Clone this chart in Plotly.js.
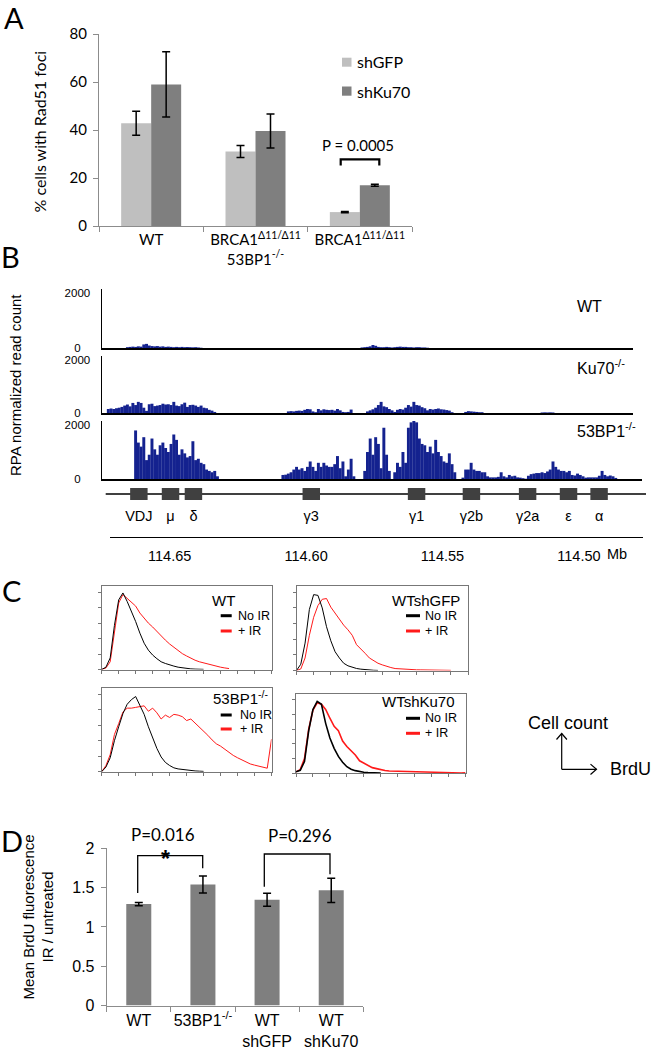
<!DOCTYPE html>
<html><head><meta charset="utf-8">
<script src="https://cdn.plot.ly/plotly-3.0.1.min.js"></script>
<style>html,body{margin:0;padding:0;background:#fff}#chart{width:657px;height:1050px}</style>
</head><body><div id="chart"></div>
<script>
// ---------- Panel A data ----------
const aCategories = ['WT', 'BRCA1<sup>Δ11/Δ11</sup><br>53BP1<sup>-/-</sup>', 'BRCA1<sup>Δ11/Δ11</sup>'];
const aShGFP = [42.8, 31, 5.8];
const aShGFPErr = [5, 2.5, 0.25];
const aShKu70 = [59, 39.6, 17];
const aShKu70Err = [13.6, 7.1, 0.4];

// ---------- Panel B data (RPA read counts, 1 kb bins from 114.6745 Mb going right) ----------
const trackStartMb = 114.6745;
const trackBinMb = -0.001;
const trackWT = [0,0,0,0,0,0,0,0,0,
30,40,50,40,60,50,130,150,90,70,60,70,50,60,40,50,40,30,40,30,40,30,35,30,25,30,20,10,
0,0,0,0,0,0,0,0,0,0,0,0,0,0,0,0,0,0,0,0,0,0,0,0,0,0,0,0,0,0,0,0,0,0,0,0,0,0,0,0,0,0,0,0,0,0,0,0,0,0,0,0,0,0,0,0,0,0,
20,30,40,60,110,80,40,30,30,40,30,20,30,40,50,40,40,30,30,20,30,30,20,20,10,
0,0,0,0,0,0,0,0,0,0,0,0,0,0,0,0,0,0,0,0,0,0,0,0,0,0,0,0,0,0,0,0,0,0,0,0,0,0,0,0,0,0,0,0,0,0,0,0,0,0,0,0,0,0,0,0,0,0,0,0,0,0,0,0,0,0,0,0,0,0,0,0,0,0];
const trackKu70 = [0,0,
150,170,150,180,200,230,280,320,250,380,300,420,380,200,80,330,350,260,280,300,350,320,330,300,420,280,260,330,390,230,300,310,280,230,280,200,180,120,90,40,
0,0,0,0,0,0,0,0,0,0,0,0,0,0,0,0,0,0,0,0,0,0,0,0,0,0,
60,70,60,80,90,80,120,150,140,60,30,150,100,140,120,110,120,90,150,100,40,30,40,130,0,
0,0,0,0,
60,100,140,200,300,420,250,220,150,100,40,120,150,130,200,300,240,420,300,280,220,180,100,150,130,150,170,140,130,110,90,30,
0,0,0,0,
40,70,60,50,40,30,30,
0,0,0,0,0,0,0,0,0,0,0,0,0,0,0,0,0,0,0,0,0,
20,25,20,25,20,
0,0,0,0,0,0,0,0,0,0,0,0,0,0,0,0,0,0,0,0,0,0,0,0,0,0,0,0,0,0,0,0];
const track53BP1 = [0,0,0,0,0,0,0,0,0,0,0,0,
1800,1350,1200,1550,700,
900,1500,1100,900,1250,1350,1150,1000,1300,1650,1450,900,1100,950,800,850,1400,700,750,600,550,350,300,250,300,100,
0,0,0,0,0,0,0,0,0,0,0,0,0,0,0,0,0,0,0,0,0,0,0,
150,160,200,250,350,450,350,400,300,450,650,450,300,600,450,600,500,450,450,550,850,400,650,100,350,750,100,
0,0,0,
300,
1000,1500,900,1550,1300,400,1900,900,300,0,
250,600,450,1000,600,1900,2100,2150,2100,1500,
1300,1250,1000,1200,950,1450,1000,850,650,600,
950,550,250,0,0,50,350,350,600,350,
300,300,250,250,100,60,60,60,80,250,
100,60,150,100,120,60,50,30,10,120,
180,200,220,220,250,220,280,350,650,450,
350,300,300,250,300,150,130,200,150,100,
50,60,60,60,60,120,300,150,100,130,
100,40,
0,0,0,0,0,0,0,0,0];
const trackNames = ['WT', 'Ku70<sup>-/-</sup>', '53BP1<sup>-/-</sup>'];
const geneNames = ['VDJ', 'μ', 'δ', 'γ3', 'γ1', 'γ2b', 'γ2a', 'ε', 'α'];
const genePosMb = [114.6613, 114.6497, 114.6413, 114.5981, 114.5595, 114.5394, 114.5188, 114.5038, 114.4926];
const scaleTicksMb = [114.65, 114.60, 114.55, 114.50];
const scaleTickText = ['114.65', '114.60', '114.55', '114.50'];

// ---------- Panel C data (BrdU histograms, % of peak, channels 0..100 step 2.5) ----------
const cStart = 0, cStep = 2.5;
const wtNoIR = [0,3,15,57,90,99,88,76,62,47,34,25,18.7,14,10,7.8,5.7,4.4,3,2,1.3,0.8,0.5,0.3,0.2];
const wtIR = [0,2,10,50,86,97,92,87,82,73,66,60,55,49,44,38,33,28.5,24.5,20.5,17.5,14.5,12,10,8.5,7,5.5,4.3,3,2,1.2];
const gfpNoIR = [0,8,35,78,97,96,80,56,38,24,16,9.3,6,4,2.6,1.7,1,0.6,0.3,0.1];
const gfpIR = [0,2,16,45,68,83,91,92,81,73,66,58,52,45,33,28,22,16,12.7,9.3,7.2,5,3.8,2.5,2,1.6,1.3,1.1,0.9,0.8,0.7,0.6,0.5,0.4,0.3,0.3,0.2];
const bp1NoIR = [0,6,18,40,58,75,87,93,97,85,74,58,44,30,19,12,8,5,3.6,2.8,1.8,1.3,1,0.7,0.4];
const bp1IR = [0,8,22,48,62,77,82,82,83,84,85,78,82,76,68,73,70,74,73,71,66,68,63,57,52,47,41,36,33,29,24,21,18,15,12,10,8.5,7,6,4.5,42];
const ku70NoIR = [2,4,16,58,87,98,94,68,48,34,23,15,9,5.5,3.6,2.3,1.4,0.9,0.5,0.3,0.2];
const ku70IR = [2,5,20,60,86,96,94,87,75,64,58,44,36.5,31,25,17,13.7,10,7.7,6.4,4.6,3.8,3.2,3,2.8,2.6,2.4,2.3,2.2,2,1.5,1.2,1,0.9,0.8,0.8,0.8,0.6,0.6,0.5,0.8];
const cPanelNames = ['WT', 'WTshGFP', '53BP1<sup>-/-</sup>', 'WTshKu70'];

// ---------- Panel D data ----------
const dCategories = ['WT', '53BP1<sup>-/-</sup>', 'WT<br>shGFP', 'WT<br>shKu70'];
const dValues = [1.29, 1.54, 1.345, 1.465];
const dErr = [0.02, 0.108, 0.083, 0.155];

// ---------- helpers ----------
const W = 657, H = 1050;
const px = x => x / W;
const py = y => 1 - y / H;
const dX = (a, b) => [px(a), px(b)];
const dY = (top, bottom) => [py(bottom), py(top)];
const mb = x => 114.65 - (x - 169.7) / 2728;   // pixel -> Mb for panel B
const axGray = '#8c8c8c';
const ARIAL = 'Liberation Sans, Arial, sans-serif';
const CAL = 'Lato, Liberation Sans, sans-serif';

function ann(text, x, y, size, family, xanchor, extra) {
  return Object.assign({text, x: px(x), y: py(y), xref: 'paper', yref: 'paper', showarrow: false,
    xanchor: xanchor || 'center', yanchor: 'middle', font: {size, family, color: '#000'}}, extra || {});
}
function line(x0, y0, x1, y1, color, width) {
  return {type: 'line', xref: 'paper', yref: 'paper', x0: px(x0), y0: py(y0), x1: px(x1), y1: py(y1),
    line: {color, width}};
}
function pathP(points, color, width) {
  const d = points.map((p, i) => (i ? 'L' : 'M') + px(p[0]) + ',' + py(p[1])).join(' ');
  return {type: 'path', xref: 'paper', yref: 'paper', path: d, line: {color, width}};
}

const traces = [];
// Panel A
traces.push({type: 'bar', x: aCategories, y: aShGFP, name: 'shGFP', xaxis: 'x', yaxis: 'y',
  marker: {color: '#bfbfbf'}, error_y: {type: 'data', array: aShGFPErr, visible: true, color: '#000', thickness: 1.5, width: 4}});
traces.push({type: 'bar', x: aCategories, y: aShKu70, name: 'shKu70', xaxis: 'x', yaxis: 'y',
  marker: {color: '#7f7f7f'}, error_y: {type: 'data', array: aShKu70Err, visible: true, color: '#000', thickness: 1.5, width: 4}});

// Panel B tracks
[trackWT, trackKu70, track53BP1].forEach((vals, i) => {
  traces.push({type: 'bar', x0: trackStartMb, dx: trackBinMb, y: vals, width: Math.abs(trackBinMb) * 1.08,
    xaxis: 'x' + (i + 2), yaxis: 'y' + (i + 2), marker: {color: '#14228f', line: {width: 0}}, name: trackNames[i]});
});
// genes
traces.push({type: 'bar', x: genePosMb, y: genePosMb.map(() => 12), base: 4, width: 0.0064,
  xaxis: 'x5', yaxis: 'y5', marker: {color: '#404040'}, name: 'genes'});
traces.push({type: 'scatter', mode: 'text', x: genePosMb, y: genePosMb.map(() => 33.6), text: geneNames,
  textfont: {family: ARIAL, size: 14.5, color: '#000'}, xaxis: 'x5', yaxis: 'y5', cliponaxis: false, name: 'gene labels'});

// Panel C
const cPairs = [[wtNoIR, wtIR], [gfpNoIR, gfpIR], [bp1NoIR, bp1IR], [ku70NoIR, ku70IR]];
cPairs.forEach((pair, i) => {
  const ax = i + 6;
  const w = i === 3 ? 1.6 : 1;
  traces.push({type: 'scatter', mode: 'lines', x0: cStart, dx: cStep, y: pair[1], xaxis: 'x' + ax, yaxis: 'y' + ax,
    line: {color: '#ff1a1a', width: w}, name: cPanelNames[i] + ' + IR'});
  traces.push({type: 'scatter', mode: 'lines', x0: cStart, dx: cStep, y: pair[0], xaxis: 'x' + ax, yaxis: 'y' + ax,
    line: {color: '#000', width: w}, name: cPanelNames[i] + ' No IR'});
});

// Panel D
traces.push({type: 'bar', x: dCategories, y: dValues, width: 0.39, xaxis: 'x10', yaxis: 'y10',
  marker: {color: '#7f7f7f'}, error_y: {type: 'data', array: dErr, visible: true, color: '#000', thickness: 1.5, width: 4}});

traces.forEach(t => t.showlegend = false);

const trackX = (a, b) => ({domain: dX(a, b), range: [mb(a), mb(b)], showline: true, linecolor: '#000', linewidth: 1.5,
  showticklabels: false, ticks: '', showgrid: false, zeroline: false, fixedrange: true});
const trackY = (top, bottom) => ({domain: dY(top, bottom), range: [0, 2150], tickvals: [0, 2000],
  ticktext: ['0&nbsp;&nbsp;&nbsp;', '2000'], ticks: '', ticklabelstandoff: 8, showline: true, linecolor: '#000', linewidth: 1.5,
  showgrid: false, zeroline: false, tickfont: {family: ARIAL, size: 11.5, color: '#000'}});
const cX = (a, b) => ({domain: dX(a, b), range: [0, 100], showline: true, mirror: true, linecolor: '#777', linewidth: 1,
  ticks: 'outside', ticklen: 3, tickcolor: '#777', tick0: 0, dtick: 10, showticklabels: false, showgrid: false, zeroline: false});
const cY = (top, bottom) => ({domain: dY(top, bottom), range: [0, 108], showline: true, mirror: true, linecolor: '#777', linewidth: 1,
  ticks: 'outside', ticklen: 3, tickcolor: '#777', tick0: 0, dtick: 20, showticklabels: false, showgrid: false, zeroline: false});

const layout = {
  width: W, height: H, margin: {l: 0, r: 0, t: 0, b: 0}, paper_bgcolor: '#fff', plot_bgcolor: 'rgba(0,0,0,0)',
  font: {family: ARIAL, color: '#000'}, showlegend: false, barmode: 'group', bargap: 0.425, bargroupgap: 0,
  xaxis: {domain: dX(99, 412), anchor: 'y', type: 'category', tickson: 'boundaries', ticks: 'outside', ticklen: 5, tickangle: 0,
    tickcolor: axGray, showline: true, linecolor: axGray, showgrid: false, tickfont: {family: CAL, size: 15, color: '#000'}},
  yaxis: {domain: dY(34, 226), anchor: 'x', range: [0, 80], tickvals: [0, 20, 40, 60, 80], ticks: 'outside', ticklen: 5,
    tickcolor: axGray, showline: true, linecolor: axGray, showgrid: false, zeroline: false, ticklabelstandoff: 3,
    tickfont: {family: CAL, size: 15, color: '#000'}},
  xaxis2: Object.assign(trackX(102, 633), {anchor: 'y2'}),
  yaxis2: Object.assign(trackY(289, 348), {anchor: 'x2'}),
  xaxis3: Object.assign(trackX(102, 633), {anchor: 'y3'}),
  yaxis3: Object.assign(trackY(356, 413), {anchor: 'x3'}),
  xaxis4: Object.assign(trackX(102, 642), {anchor: 'y4'}),
  yaxis4: Object.assign(trackY(421, 479), {anchor: 'x4'}),
  xaxis5: {domain: dX(109.5, 642.6), anchor: 'y5', range: [mb(109.5), mb(642.6)], showline: true, linecolor: '#000', linewidth: 1.5,
    ticks: '', tickvals: scaleTicksMb, ticktext: scaleTickText, ticklabelstandoff: 5, showgrid: false, zeroline: false, tickangle: 0,
    tickfont: {family: ARIAL, size: 14.5, color: '#000'}},
  yaxis5: {domain: dY(484, 536.6), anchor: 'x5', range: [52.6, 0], visible: false},
  xaxis6: Object.assign(cX(101.7, 271.5), {anchor: 'y6'}),
  yaxis6: Object.assign(cY(586, 669.5), {anchor: 'x6'}),
  xaxis7: Object.assign(cX(296.5, 468), {anchor: 'y7'}),
  yaxis7: Object.assign(cY(586, 670.5), {anchor: 'x7'}),
  xaxis8: Object.assign(cX(101.7, 271.5), {anchor: 'y8'}),
  yaxis8: Object.assign(cY(688, 771.7), {anchor: 'x8'}),
  xaxis9: Object.assign(cX(296, 465.5), {anchor: 'y9'}),
  yaxis9: Object.assign(cY(694, 773.3), {anchor: 'x9'}),
  xaxis10: {domain: dX(106.7, 363.3), anchor: 'y10', type: 'category', tickson: 'boundaries', ticks: 'outside', ticklen: 5, tickangle: 0,
    tickcolor: axGray, showline: true, linecolor: axGray, showgrid: false, tickfont: {family: ARIAL, size: 16, color: '#000'}},
  yaxis10: {domain: dY(848.3, 1005.5), anchor: 'x10', range: [0, 2], tickvals: [0, 0.5, 1, 1.5, 2], ticktext: ['0', '0.5', '1', '1.5', '2'],
    ticks: 'outside', ticklen: 5, tickcolor: axGray, showline: true, linecolor: axGray, showgrid: false, zeroline: false,
    ticklabelstandoff: 3, tickfont: {family: ARIAL, size: 16, color: '#000'}},
  annotations: [
    // panel letters
    ann('A', 14, 17, 29, CAL), ann('B', 10, 256, 29, CAL), ann('C', 11, 590, 29, CAL), ann('D', 12, 840, 29, CAL),
    // Panel A
    ann('% cells with Rad51 foci', 39.5, 132, 16, CAL, 'center', {textangle: -90}),
    ann('shGFP', 355, 62, 16, CAL, 'left'), ann('shKu70', 355, 91, 16, CAL, 'left'),
    ann('P = 0.0005', 358, 145, 15, CAL),
    // Panel B
    ann('RPA normalized read count', 15, 385, 15, ARIAL, 'center', {textangle: -90}),
    ann(trackNames[0], 575, 306.7, 16, ARIAL, 'left'),
    ann(trackNames[1], 575, 366.7, 16, ARIAL, 'left'),
    ann(trackNames[2], 575, 430, 16, ARIAL, 'left'),
    ann('Mb', 605, 553.8, 14.5, ARIAL, 'left'),
    // Panel C
    ann(cPanelNames[0], 237, 600.7, 15, ARIAL, 'right'),
    ann('No IR', 236, 615.7, 12.5, ARIAL, 'left'), ann('+ IR', 236, 631, 12.5, ARIAL, 'left'),
    ann(cPanelNames[1], 462, 600.7, 15, ARIAL, 'right'),
    ann('No IR', 423, 615.7, 12.5, ARIAL, 'left'), ann('+ IR', 423, 631, 12.5, ARIAL, 'left'),
    ann(cPanelNames[2], 270, 697.3, 15, ARIAL, 'right'),
    ann('No IR', 238, 715, 12.5, ARIAL, 'left'), ann('+ IR', 238, 729, 12.5, ARIAL, 'left'),
    ann(cPanelNames[3], 457, 701, 15, ARIAL, 'right'),
    ann('No IR', 423, 718.3, 12.5, ARIAL, 'left'), ann('+ IR', 423, 733.3, 12.5, ARIAL, 'left'),
    ann('Cell count', 567.5, 722.7, 18, ARIAL),
    ann('BrdU', 630, 769.3, 18, ARIAL),
    // Panel D
    ann('Mean BrdU fluorescence<br>IR / untreated', 37.5, 917, 15, ARIAL, 'center', {textangle: -90}),
    ann('P=0.016', 163, 834, 17, CAL), ann('P=0.296', 300, 835, 17, CAL),
    ann('<b>*</b>', 165.7, 859, 23, ARIAL)
  ],
  shapes: [
    // Panel A legend swatches and bracket
    {type: 'rect', xref: 'paper', yref: 'paper', x0: px(342), x1: px(351.5), y0: py(66.7), y1: py(57.7), fillcolor: '#bfbfbf', line: {width: 0}},
    {type: 'rect', xref: 'paper', yref: 'paper', x0: px(342), x1: px(351.5), y0: py(95.7), y1: py(86.5), fillcolor: '#7f7f7f', line: {width: 0}},
    pathP([[340.7, 165.5], [340.7, 159.3], [379.3, 159.3], [379.3, 165.5]], '#000', 2.2),
    // Panel B gene backbone
    Object.assign(line(105.7, 494, 646, 494, '#000', 1.5), {layer: 'below'}),
    // Panel C legend dashes
    line(220.7, 615.7, 231.7, 615.7, '#000', 3), line(220.7, 631, 231.7, 631, '#ff1a1a', 3),
    line(406, 615.7, 420, 615.7, '#000', 3), line(406, 631, 420, 631, '#ff1a1a', 3),
    line(220.7, 715, 231.7, 715, '#000', 3), line(220.7, 729, 231.7, 729, '#ff1a1a', 3),
    line(406, 718.3, 420, 718.3, '#000', 3), line(406, 733.3, 420, 733.3, '#ff1a1a', 3),
    // Cell count / BrdU arrows
    pathP([[561.7, 769.3], [561.7, 733.5]], '#000', 1.2),
    pathP([[556.5, 739.5], [561.7, 733.5], [566.9, 739.5]], '#000', 1.2),
    pathP([[561.7, 769.3], [596.5, 769.3]], '#000', 1.2),
    pathP([[590.5, 764.1], [596.5, 769.3], [590.5, 774.5]], '#000', 1.2),
    // Panel D brackets
    pathP([[137.7, 893], [137.7, 855.7], [202.7, 855.7], [202.7, 868.3]], '#000', 1.3),
    pathP([[264.3, 886.7], [264.3, 854], [330, 854], [330, 874.3]], '#000', 1.3)
  ]
};

Plotly.newPlot('chart', traces, layout, {displayModeBar: false, staticPlot: true});
</script></body></html>
